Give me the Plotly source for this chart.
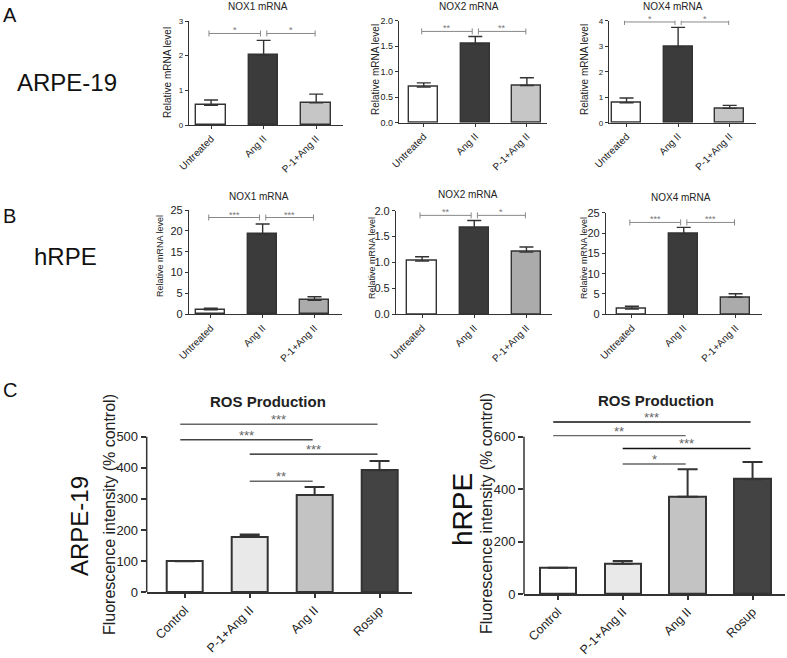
import plotly.graph_objects as go

W, H = 787, 658
FONT = "Liberation Sans, Arial, sans-serif"

# ---------------- data ----------------
groups_ab = ["Untreated", "Ang II", "P-1+Ang II"]
groups_c = ["Control", "P-1+Ang II", "Ang II", "Rosup"]

# A: ARPE-19 relative mRNA level (mean, upper SEM)
a_nox1_mean = [0.57, 2.02, 0.64]
a_nox1_err = [0.15, 0.42, 0.25]
a_nox2_mean = [0.70, 1.54, 0.73]
a_nox2_err = [0.08, 0.15, 0.15]
a_nox4_mean = [0.78, 2.98, 0.56]
a_nox4_err = [0.19, 0.76, 0.12]

# B: hRPE relative mRNA level
b_nox1_mean = [1.10, 19.25, 3.35]
b_nox1_err = [0.34, 2.40, 0.85]
b_nox2_mean = [1.03, 1.67, 1.20]
b_nox2_err = [0.08, 0.14, 0.10]
b_nox4_mean = [1.30, 19.80, 4.18]
b_nox4_err = [0.67, 1.60, 0.89]

# C: ROS production (% control)
c_arpe_mean = [100, 179, 313, 392]
c_arpe_err = [0, 7, 25, 30]
c_hrpe_mean = [100, 115, 371, 438]
c_hrpe_err = [0, 11, 105, 65]

# significance comparisons: (group i, group j, bracket height, label)
a_nox1_sig = [(0, 1, 2.64, "*"), (1, 2, 2.64, "*")]
a_nox2_sig = [(0, 1, 1.79, "**"), (1, 2, 1.79, "**")]
a_nox4_sig = [(0, 1, 3.95, "*"), (1, 2, 3.95, "*")]
b_nox1_sig = [(0, 1, 23.2, "***"), (1, 2, 23.2, "***")]
b_nox2_sig = [(0, 1, 1.91, "**"), (1, 2, 1.91, "*")]
b_nox4_sig = [(0, 1, 22.6, "***"), (1, 2, 22.6, "***")]
c_arpe_sig = [(0, 3, 540, "***"), (0, 2, 490, "***"), (1, 3, 444, "***"), (1, 2, 357, "**")]
c_hrpe_sig = [(0, 3, 656, "***"), (0, 2, 604, "**"), (1, 3, 555, "***"), (1, 2, 496, "*")]

titles_ab = ["NOX1 mRNA", "NOX2 mRNA", "NOX4 mRNA"]

# ---------------- styling ----------------
LINE = "#333333"
fills_a = ["white", "#3b3b3b", "#c6c6c6"]
fills_b = ["white", "#3b3b3b", "#ababab"]
fills_c = ["white", "#e9e9e9", "#c3c3c3", "#434343"]

panels = [
    # pixel geometry: x0, x1, y_bottom, y_top ; axis ranges
    dict(cats=groups_ab, mean=a_nox1_mean, err=a_nox1_err, sig=a_nox1_sig, fills=fills_a,
         px=(189, 343, 125, 21), xr=[-0.42, 2.51], ymax=3, yr=[0, 3], dtick=1, fmt="d",
         kind="ab", ytf=8, title=titles_ab[0], tpos=(258, 7), ytpos=(168, 73)),
    dict(cats=groups_ab, mean=a_nox2_mean, err=a_nox2_err, sig=a_nox2_sig, fills=fills_a,
         px=(399, 547, 122.7, 20.7), xr=[-0.48, 2.39], ymax=2, yr=[0, 2], dtick=0.5, fmt=".1f",
         kind="ab", ytf=9, title=titles_ab[1], tpos=(469, 7), ytpos=(375, 70)),
    dict(cats=groups_ab, mean=a_nox4_mean, err=a_nox4_err, sig=a_nox4_sig, fills=fills_a,
         px=(609, 756, 122.7, 20.7), xr=[-0.34, 2.51], ymax=4, yr=[0, 4], dtick=1, fmt="d",
         kind="ab", ytf=8, title=titles_ab[2], tpos=(673, 6), ytpos=(584, 70)),
    dict(cats=groups_ab, mean=b_nox1_mean, err=b_nox1_err, sig=b_nox1_sig, fills=fills_b,
         px=(189, 342, 314.3, 210), xr=[-0.42, 2.53], ymax=25, yr=[0, 25], dtick=5, fmt="d",
         kind="ab", ytf=11, title=titles_ab[0], tpos=(259, 196), ytpos=(160, 256)),
    dict(cats=groups_ab, mean=b_nox2_mean, err=b_nox2_err, sig=b_nox2_sig, fills=fills_b,
         px=(396, 552, 314.3, 210.7), xr=[-0.5, 2.49], ymax=2, yr=[0, 2], dtick=0.5, fmt=".1f",
         kind="ab", ytf=11, title=titles_ab[1], tpos=(468, 195), ytpos=(372, 258)),
    dict(cats=groups_ab, mean=b_nox4_mean, err=b_nox4_err, sig=b_nox4_sig, fills=fills_b,
         px=(606, 762, 314.3, 212.7), xr=[-0.5, 2.51], ymax=25, yr=[0, 25], dtick=5, fmt="d",
         kind="ab", ytf=11, title=titles_ab[2], tpos=(681, 197), ytpos=(584, 258)),
    dict(cats=groups_c, mean=c_arpe_mean, err=c_arpe_err, sig=c_arpe_sig, fills=fills_c,
         px=(146.7, 412.3, 592.3, 418), xr=[-0.587, 3.505], ymax=500, yr=[0, 560], dtick=100, fmt="d",
         kind="c", ytf=13, title="ROS Production", tpos=(268, 402), ytpos=(109, 515),
         sigcol=["#666666", "#444444", "#111111", "#666666"]),
    dict(cats=groups_c, mean=c_hrpe_mean, err=c_hrpe_err, sig=c_hrpe_sig, fills=fills_c,
         px=(524, 785, 594, 415.7), xr=[-0.52, 3.5], ymax=600, yr=[0, 680], dtick=200, fmt="d",
         kind="c", ytf=13, title="ROS Production", tpos=(656, 400), ytpos=(486, 514),
         sigcol=["#111111", "#666666", "#111111", "#666666"]),
]

fig = go.Figure()
shapes = []
annotations = []


def pp(x, y):
    return x / W, 1 - y / H


for k, p in enumerate(panels, start=1):
    xa = "x" if k == 1 else f"x{k}"
    ya = "y" if k == 1 else f"y{k}"
    xkey = "xaxis" if k == 1 else f"xaxis{k}"
    ykey = "yaxis" if k == 1 else f"yaxis{k}"
    n = len(p["cats"])
    idx = list(range(n))
    isc = p["kind"] == "c"
    lw = 2 if isc else 1.4
    fig.add_trace(go.Bar(
        x=idx, y=p["mean"], width=0.56,
        marker=dict(color=p["fills"], line=dict(color=LINE, width=lw)),
        error_y=dict(type="data", array=p["err"], arrayminus=[0] * n, symmetric=False,
                     color=LINE, thickness=lw, width=10 if isc else 7),
        xaxis=xa, yaxis=ya, showlegend=False, hoverinfo="skip",
    ))
    x0, x1, yb, yt = p["px"]
    tv = []
    v = 0
    while v <= p["ymax"] + 1e-9:
        tv.append(round(v, 3))
        v += p["dtick"]
    fig.update_layout(**{
        xkey: dict(domain=[x0 / W, x1 / W], range=p["xr"], anchor=ya, automargin=False,
                   tickvals=idx, ticktext=p["cats"], tickangle=-45,
                   showline=True, linecolor=LINE, linewidth=1.5 if isc else 1.2,
                   ticks="outside", ticklen=4 if isc else 3, tickcolor=LINE,
                   tickwidth=1.5 if isc else 1,
                   tickfont=dict(family=FONT, size=12.5 if isc else 10, color="#222"),
                   showgrid=False, zeroline=False, fixedrange=True),
        ykey: dict(domain=[1 - yb / H, 1 - yt / H], range=p["yr"], anchor=xa, automargin=False,
                   tickvals=tv, tickformat=p["fmt"] if p["fmt"] != "d" else None,
                   showline=not isc, linecolor=LINE, linewidth=1.2,
                   ticks="outside", ticklen=5 if isc else 3, tickcolor=LINE,
                   tickwidth=1.5 if isc else 1,
                   tickfont=dict(family=FONT, size=p["ytf"], color="#222"),
                   showgrid=False, zeroline=False, fixedrange=True),
    })
    if isc:
        # y-axis line drawn only up to the top tick
        shapes.append(dict(type="line", xref=f"{xa} domain", yref=ya, x0=0, x1=0,
                           y0=0, y1=p["ymax"], line=dict(color=LINE, width=1.5)))
        for s, col in zip(p["sig"], p["sigcol"]):
            i, j, h, lab = s
            sx0 = i - 0.07 if i == 0 else i
            sx1 = j - 0.03
            shapes.append(dict(type="line", xref=xa, yref=ya, x0=sx0, x1=sx1, y0=h, y1=h,
                               line=dict(color=col, width=1.4)))
            annotations.append(dict(xref=xa, yref=ya, x=(sx0 + sx1) / 2, y=h, text=lab,
                                    showarrow=False, yanchor="bottom", yshift=-5,
                                    font=dict(family=FONT, size=13, color="#666")))
    else:
        for i, j, h, lab in p["sig"]:
            sx0 = i + (0.06 if i == 1 else -0.04)
            sx1 = j + (-0.06 if j == 1 else -0.02)
            shapes.append(dict(type="line", xref=xa, yref=ya, x0=sx0, x1=sx1, y0=h, y1=h,
                               line=dict(color="#888", width=1)))
            for xe in (sx0, sx1):
                shapes.append(dict(type="line", xref=xa, yref=ya, x0=xe, x1=xe,
                                   ysizemode="pixel", yanchor=h, y0=-3, y1=3,
                                   line=dict(color="#888", width=1)))
            annotations.append(dict(xref=xa, yref=ya, x=(sx0 + sx1) / 2, y=h, text=lab,
                                    showarrow=False, yanchor="bottom", yshift=-4,
                                    font=dict(family=FONT, size=9, color="#777")))
    # panel title
    tx, ty = pp(*p["tpos"])
    annotations.append(dict(xref="paper", yref="paper", x=tx, y=ty, text=p["title"],
                            showarrow=False, xanchor="center", yanchor="middle",
                            font=dict(family=FONT, size=15 if isc else 10, color="#222"),
                            ))
    if isc:
        annotations[-1]["text"] = "<b>" + p["title"] + "</b>"
    # y-axis title
    yx, yy = pp(*p["ytpos"])
    annotations.append(dict(xref="paper", yref="paper", x=yx, y=yy,
                            text="Fluorescence intensity (% control)" if isc else "Relative mRNA level",
                            textangle=-90, showarrow=False, xanchor="center", yanchor="middle",
                            font=dict(family=FONT, size=16 if isc else (10 if k <= 3 else 9),
                                      color="#222")))

# panel letters and cell-line labels
labels = [
    ("A", 10, 15, 20, 0), ("B", 9, 216, 20, 0), ("C", 10, 390, 20, 0),
    ("ARPE-19", 67, 82, 24, 0), ("hRPE", 65, 256, 24, 0),
    ("ARPE-19", 79, 526, 24, -90), ("hRPE", 462, 510, 28, -90),
]
for t, x, y, s, ang in labels:
    ax, ay = pp(x, y)
    annotations.append(dict(xref="paper", yref="paper", x=ax, y=ay, text=t, textangle=ang,
                            showarrow=False, xanchor="center", yanchor="middle",
                            font=dict(family=FONT, size=s, color="#111")))

fig.update_layout(
    width=W, height=H, margin=dict(l=0, r=0, t=0, b=0, autoexpand=False),
    template="none",
    paper_bgcolor="white", plot_bgcolor="white",
    showlegend=False, shapes=shapes, annotations=annotations,
    bargap=0,
)

fig.write_html("out.html", config={"displayModeBar": False},
               post_script="document.body.style.margin='0';document.body.style.padding='0';")
